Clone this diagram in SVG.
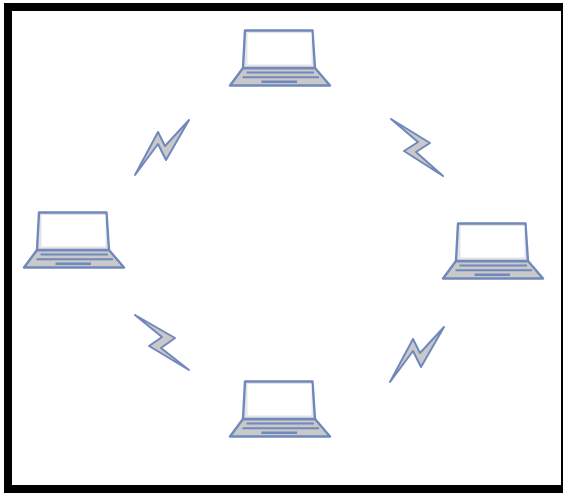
<svg xmlns="http://www.w3.org/2000/svg" width="563" height="494" viewBox="0 0 563 494">
<style>
.s{fill:#c9c9c9;stroke:#7088bb;stroke-width:2.400;stroke-linejoin:round}
.f{fill:#e4e4e4;stroke:#7088bb;stroke-width:2.400;stroke-linejoin:round}
.w{fill:#fff;stroke:none}
.l{fill:none;stroke:#7088bb;stroke-width:2}
.k{fill:none;stroke:#7088bb;stroke-width:2.600}
.b{fill:#c9c9c9;stroke:#7088bb;stroke-width:2;stroke-linejoin:round}
.soft{filter:url(#soft)}
</style>
<defs>
<filter id="soft" x="-10%" y="-10%" width="120%" height="120%"><feGaussianBlur stdDeviation="0.5"/></filter>
<g id="laptop">
<path class="s" d="M1 55.500L14 38H86L101 55.500Z"/>
<path class="f" d="M14 38L16 0.500H83.500L86 38Z"/>
<path class="w" d="M18.500 3H82.500V34.500H18.500Z"/>
<path class="l" d="M17.500 42.500H85M13.500 47.300H90"/>
<path class="k" d="M32.500 51.800H68"/>
</g>
</defs>
<rect width="563" height="494" fill="#fff"/>
<rect x="8" y="7" width="557" height="482" fill="none" stroke="#000" stroke-width="8"/>
<g id="connectors" class="soft">
<path class="b" d="M135 175L158 132L165 146L189 120L166 160L158 144Z"/>
<path class="b" d="M391 119L430 143L416 152L443 176L404 151L418 142Z"/>
<path class="b" d="M135 315L175 338L161 348L189 370L149 346L162 337Z"/>
<path class="b" d="M390 382L413 339L420 353L444 327L421 367L413 351Z"/>
</g>
<g id="laptop-top" class="soft"><use href="#laptop" x="229" y="30"/></g>
<g id="laptop-left" class="soft"><use href="#laptop" x="23" y="212"/></g>
<g id="laptop-right" class="soft"><use href="#laptop" x="442" y="223"/></g>
<g id="laptop-bottom" class="soft"><use href="#laptop" x="229" y="381"/></g>
</svg>
